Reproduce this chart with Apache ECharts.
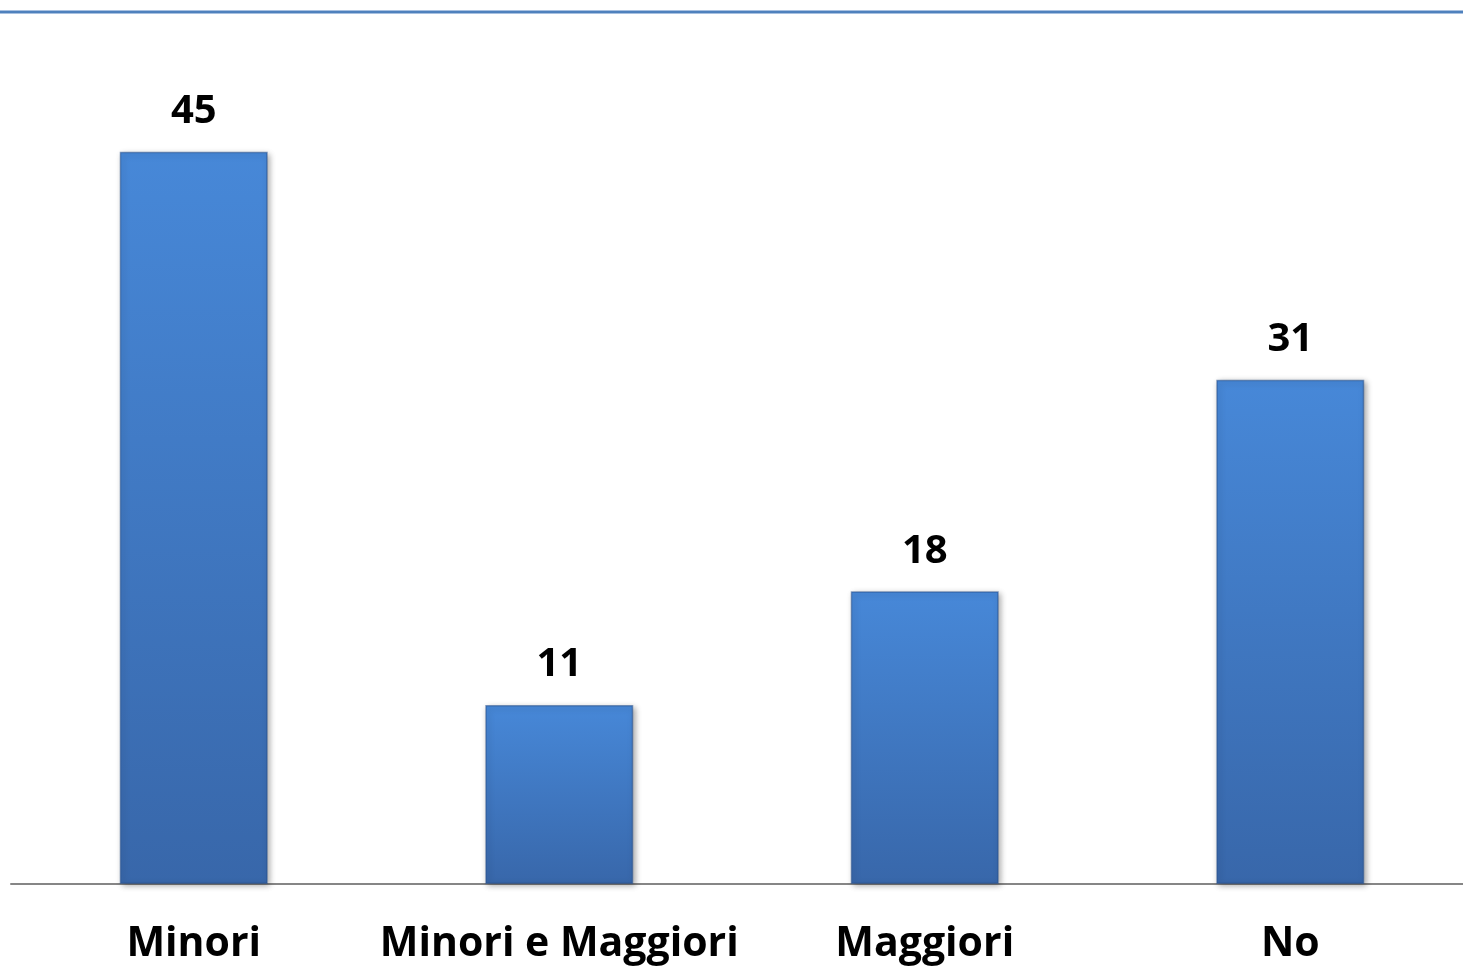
<!DOCTYPE html>
<html>
<head>
<meta charset="utf-8">
<style>
  html, body { margin: 0; padding: 0; background: #ffffff; overflow: hidden; width: 1463px; height: 968px; }
  #chart { width: 1473px; height: 968px; }
</style>
<script src="https://cdn.jsdelivr.net/npm/echarts@6/dist/echarts.min.js"></script>
</head>
<body>
<div id="chart"></div>
<script>
const categories = ["Minori", "Minori e Maggiori", "Maggiori", "No"];
const values = [45, 11, 18, 31];

const chart = echarts.init(document.getElementById('chart'), null, { renderer: 'canvas' });

const option = {
  backgroundColor: '#ffffff',
  animation: false,
  graphic: [
    { type: 'rect', shape: { x: 0, y: 10, width: 1473, height: 4 }, style: { fill: '#a7c0e0' }, silent: true },
    { type: 'rect', shape: { x: 0, y: 11, width: 1473, height: 2 }, style: { fill: '#4f81bd' }, silent: true }
  ],
  grid: { left: 11, top: 70.5, right: 0, bottom: 84, containLabel: false },
  xAxis: {
    type: 'category',
    data: categories,
    axisLine: { show: true, lineStyle: { color: '#868686', width: 2 } },
    axisTick: { show: false },
    axisLabel: {
      interval: 0,
      margin: 40,
      color: '#000000',
      fontFamily: 'Open Sans',
      fontWeight: 'bold',
      fontSize: 41
    }
  },
  yAxis: {
    type: 'value',
    min: 0,
    max: 50,
    show: false,
    splitLine: { show: false }
  },
  series: [{
    type: 'bar',
    data: values,
    barWidth: 148,
    itemStyle: {
      color: {
        type: 'linear', x: 0, y: 0, x2: 0, y2: 1,
        colorStops: [
          { offset: 0, color: '#4788d8' },
          { offset: 1, color: '#3867aa' }
        ]
      },
      borderColor: 'rgba(40,80,140,0.55)',
      borderWidth: 1.5,
      shadowColor: 'rgba(0,0,0,0.35)',
      shadowBlur: 6,
      shadowOffsetX: 2,
      shadowOffsetY: 2
    },
    label: {
      show: true,
      position: 'top',
      distance: 20,
      color: '#000000',
      fontFamily: 'Open Sans',
      fontWeight: 'bold',
      fontSize: 40
    }
  }]
};
chart.setOption(option);
</script>
</body>
</html>
